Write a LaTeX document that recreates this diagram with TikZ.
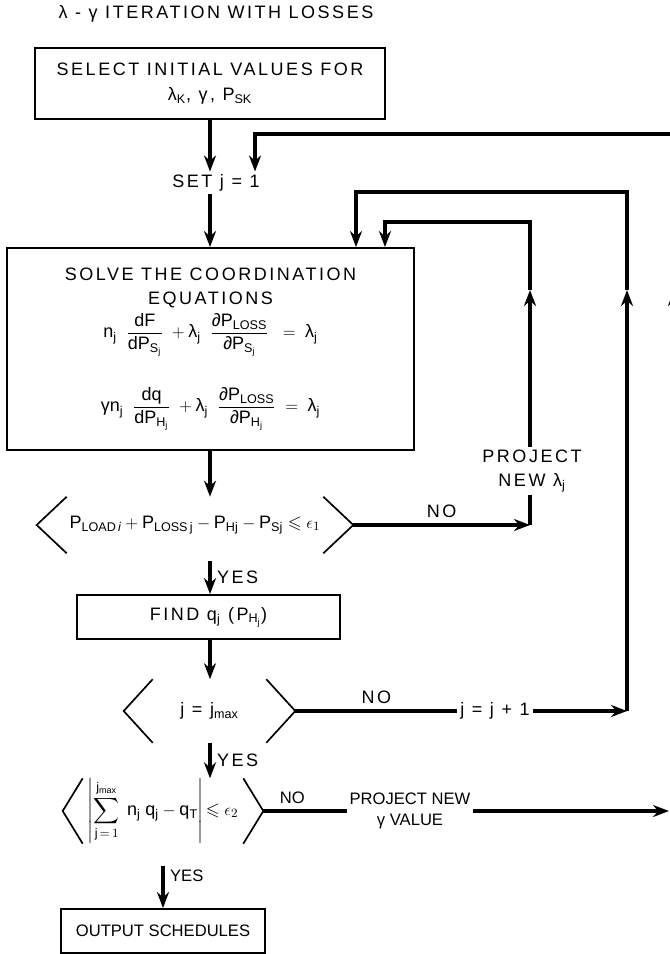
\documentclass[tikz,border=0pt]{standalone}
\usepackage{amsmath,amssymb}
\usepackage{fontspec}
\setmainfont{Liberation Sans}
\newfontfamily\capsfont[LetterSpace=14]{Liberation Sans}
\usetikzlibrary{arrows.meta,calc}
\newcommand{\ms}[1]{\mathrm{#1}}
\newcommand{\glam}{\text{λ}}
\newcommand{\ggam}{\text{γ}}
\newcommand{\gpar}{\text{∂}}
\tikzset{
  base/.style={font=\capsfont\fontsize{12.8pt}{17pt}\selectfont, align=center, inner sep=2pt},
  tight/.style={font=\rmfamily\fontsize{11.8pt}{15pt}\selectfont},
  box/.style={base, rectangle, draw, line width=1.3pt},
  dec/.style={base, rectangle, inner sep=0pt},
  chev/.style={line width=1.2pt},
  flow/.style={line width=2.2pt},
  arr/.style={flow, -{Stealth[length=4mm,width=3mm]}},
  lbl/.style={base, inner sep=4pt},
}

\begin{document}
\begin{tikzpicture}[x=0.025cm,y=-0.025cm]
  \useasboundingbox (0,0) rectangle (670,954);
  \node[base] (title) at (216,14) {λ - γ ITERATION WITH LOSSES};
  \node[box,minimum width=8.75cm,minimum height=1.775cm] (sel) at (210,83.5) {SELECT INITIAL VALUES FOR\\[1pt]λ$_\ms{K}$, γ, P$_\ms{SK}$};
  \node[base] (setj) at (216,183) {SET j = 1};
  \node[box,minimum width=10.175cm,minimum height=5.05cm] (solve) at (210.5,349)
    {SOLVE THE COORDINATION\\EQUATIONS\\[3pt]
     $\ms{n}_\ms{j}\;\;\dfrac{\ms{dF}}{\ms{dP}_{\ms{S}_\ms{j}}}\;+\glam_\ms{j}\;\;\dfrac{\gpar\ms{P}_\ms{LOSS}}{\gpar\ms{P}_{\ms{S}_\ms{j}}}\;\;=\;\glam_\ms{j}$\\[21pt]
     $\ggam\ms{n}_\ms{j}\;\;\dfrac{\ms{dq}}{\ms{dP}_{\ms{H}_\ms{j}}}\;+\glam_\ms{j}\;\;\dfrac{\gpar\ms{P}_\ms{LOSS}}{\gpar\ms{P}_{\ms{H}_\ms{j}}}\;=\;\glam_\ms{j}$};
  \node[dec,minimum width=7.9cm,minimum height=1.4cm] (d1) at (195,525)
    {$\ms{P}_{\ms{LOAD}\,\mathit{i}}+\ms{P}_{\ms{LOSS\,j}}-\ms{P}_\ms{Hj}-\ms{P}_\ms{Sj}\leqslant\epsilon_1$};
  \node[base] (projl) at (532,471) {PROJECT\\NEW λ$_\ms{j}$};
  \node[box,minimum width=6.575cm,minimum height=1.1cm] (find) at (208.5,617) {FIND q$_\ms{j}$ (P$_{\ms{H}_\ms{j}}$)};
  \node[dec,minimum width=4.275cm,minimum height=1.575cm] (d2) at (209.5,711) {j = j$_\ms{max}$};
  \node[base] (jinc) at (495,711) {j = j + 1};
  \node[dec,minimum width=5cm,minimum height=1.425cm] (d3) at (163,811)
    {$\left|\displaystyle\sum\limits_{\ms{j}\,=\,1}^{\ms{j}_\ms{max}}\;\ms{n}_\ms{j}\;\ms{q}_\ms{j}-\ms{q}_\ms{T}\right|\!\leqslant\epsilon_2$};
  \node[base,tight] (projg) at (410,811) {PROJECT NEW\\γ VALUE};
  \node[box,tight,minimum width=5.1cm,minimum height=1.1cm] (out) at (163,931) {OUTPUT SCHEDULES};
  % decision brackets
  \foreach \d/\w in {d1/30,d2/29,d3/20}{
    \draw[chev] ($(\d.north west)+(\w,0)$) -- (\d.west) -- ($(\d.south west)+(\w,0)$);
    \draw[chev] ($(\d.north east)-(\w,0)$) -- (\d.east) -- ($(\d.south east)-(\w,0)$);
  }
  % main column
  \draw[arr] (sel) -- (sel |- setj.north);
  \draw[arr] (sel |- setj.south) -- (sel |- solve.north);
  \draw[arr] (sel |- solve.south) -- (sel |- d1.north);
  \draw[arr] ([yshift=-0.2cm]sel |- d1.south) -- (sel |- find.north) node[midway,lbl,right]{YES};
  \draw[arr] (sel |- find.south) -- (sel |- d2.north);
  \draw[arr] (sel |- d2.south) -- (sel |- d3.north) node[midway,lbl,right]{YES};
  \draw[arr,shorten <=0.55cm] (d3.south) -- (out) node[midway,lbl,tight,right]{YES};
  % lambda loop
  \coordinate (lamc) at (530,525);
  \coordinate (lamup) at (530,290);
  \coordinate (lamtop) at (385,222);
  \draw[arr] (d1.east) -- (lamc) node[midway,lbl,above]{NO};
  \draw[flow] (lamc) -- (lamc |- projl.south);
  \draw[arr] (lamc |- projl.north) -- (lamup);
  \draw[arr] (lamup) |- (lamtop) -- (lamtop |- solve.north);
  % j loop
  \coordinate (jc) at (627,711);
  \coordinate (jup) at (627,290);
  \coordinate (jtop) at (356,192);
  \draw[flow] (d2.east) -- (jinc) node[midway,lbl,above]{NO};
  \draw[arr] (jinc) -- (jc);
  \draw[arr] (jc) -- (jup);
  \draw[arr] (jup) |- (jtop) -- (jtop |- solve.north);
  % gamma loop
  \coordinate (gc) at (669,811);
  \coordinate (gr) at (674,811);
  \coordinate (gup) at (674,290);
  \coordinate (gtop) at (255,134);
  \draw[flow] (d3.east) -- (projg) node[pos=0.35,lbl,tight,above]{NO};
  \draw[arr] (projg) -- (gc);
  \draw[arr] (gr) -- (gup);
  \draw[arr] (gup) |- (gtop) -- (gtop |- setj.north);
\end{tikzpicture}
\end{document}
